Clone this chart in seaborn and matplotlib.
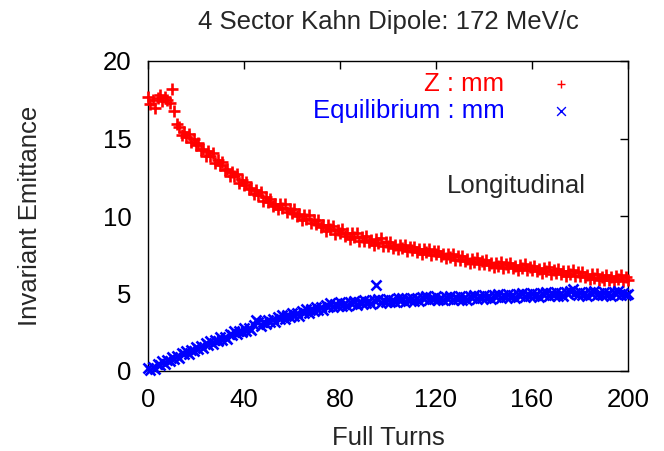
import numpy as np
import pandas as pd
import matplotlib
matplotlib.use("Agg")
import matplotlib.pyplot as plt
import seaborn as sns

# ---- data ----
z_mm = [
    17.7, 17.2, 17.5, 17.0, 17.6, 17.8, 17.4, 17.7, 17.5, 17.3,
    18.2,
    16.8, 15.95, 15.75, 15.2, 15.45, 15.1, 15.3, 14.75, 14.95, 14.55,
    14.7, 14.25, 14.35, 13.9, 14.2, 13.85, 14.05, 13.45, 13.6, 13.3,
    13.47, 12.98, 13.05, 12.61, 12.87, 12.55, 12.73, 12.16, 12.34, 12.02,
    12.2, 11.73, 11.81, 11.39, 11.67, 11.35, 11.55, 11.0, 11.2, 10.9,
    11.1, 10.65, 10.79, 10.43, 10.77, 10.51, 10.75, 10.23, 10.46, 10.19,
    10.42, 10.0, 10.13, 9.75, 10.08, 9.81, 10.04, 9.52, 9.75, 9.48,
    9.71, 9.29, 9.42, 9.05, 9.39, 9.13, 9.37, 8.86, 9.12, 8.88,
    9.13, 8.73, 8.88, 8.53, 8.88, 8.63, 8.88, 8.38, 8.64, 8.41,
    8.68, 8.3, 8.47, 8.15, 8.52, 8.29, 8.55, 8.06, 8.32, 8.08,
    8.32, 7.96, 8.12, 7.84, 8.14, 7.94, 8.16, 7.76, 7.98, 7.78,
    8.03, 7.69, 7.85, 7.57, 7.87, 7.67, 7.9, 7.5, 7.72, 7.52,
    7.77, 7.41, 7.56, 7.27, 7.56, 7.35, 7.57, 7.17, 7.39, 7.17,
    7.42, 7.07, 7.23, 6.95, 7.24, 7.05, 7.27, 6.88, 7.1, 6.9,
    7.15, 6.81, 6.97, 6.7, 7.0, 6.8, 7.03, 6.65, 6.88, 6.69,
    6.95, 6.62, 6.8, 6.53, 6.84, 6.65, 6.88, 6.49, 6.72, 6.52,
    6.78, 6.44, 6.61, 6.34, 6.64, 6.45, 6.68, 6.29, 6.52, 6.32,
    6.59, 6.25, 6.42, 6.15, 6.46, 6.27, 6.5, 6.12, 6.36, 6.16,
    6.41, 6.06, 6.22, 5.94, 6.23, 6.03, 6.25, 5.85, 6.09, 5.9,
    6.18, 5.85, 6.04, 5.78, 6.1, 5.92, 6.17, 5.79, 6.04, 5.85,
]
equilibrium_mm = [
    0.22, 0.07, 0.28, 0.16, 0.48, 0.41, 0.67, 0.47, 0.72, 0.66,
    0.92, 0.76, 0.97, 0.84, 1.15, 1.07, 1.32, 1.12, 1.36, 1.29,
    1.55, 1.39, 1.59, 1.47, 1.78, 1.7, 1.95, 1.74, 1.99, 1.92,
    2.17, 2.01, 2.21, 2.08, 2.39, 2.31, 2.56, 2.36, 2.6, 2.53,
    2.77, 2.61, 2.8, 2.67, 2.97, 3.3, 3.13, 2.91, 3.14, 3.06,
    3.31, 3.14, 3.33, 3.18, 3.47, 3.37, 3.6, 3.37, 3.59, 3.5,
    3.72, 3.54, 3.72, 3.57, 3.86, 3.76, 3.99, 3.76, 3.98, 3.89,
    4.11, 3.93, 4.11, 3.95, 4.24, 4.13, 4.36, 4.12, 4.32, 4.21,
    4.42, 4.21, 4.37, 4.19, 4.46, 4.33, 4.54, 4.28, 4.48, 4.37,
    4.57, 4.37, 4.52, 4.34, 4.6, 5.55, 4.66, 4.4, 4.59, 4.47,
    4.67, 4.46, 4.6, 4.42, 4.68, 4.54, 4.74, 4.48, 4.67, 4.55,
    4.74, 4.53, 4.68, 4.5, 4.75, 4.62, 4.82, 4.55, 4.74, 4.62,
    4.81, 4.59, 4.73, 4.55, 4.8, 4.66, 4.85, 4.58, 4.76, 4.63,
    4.82, 4.61, 4.76, 4.58, 4.84, 4.7, 4.9, 4.64, 4.82, 4.7,
    4.9, 4.69, 4.84, 4.65, 4.91, 4.78, 4.98, 4.71, 4.9, 4.77,
    4.97, 4.76, 4.9, 4.72, 4.98, 4.84, 5.04, 4.78, 4.96, 4.84,
    5.03, 4.82, 4.96, 4.78, 5.03, 4.9, 5.09, 4.83, 5.01, 4.89,
    5.08, 4.87, 5.01, 4.82, 5.08, 4.94, 5.13, 5.3, 5.05, 4.92,
    5.12, 4.9, 5.04, 4.85, 5.1, 4.96, 5.15, 4.88, 5.06, 4.93,
    5.12, 4.9, 5.04, 4.85, 5.1, 4.96, 5.15, 4.88, 5.06, 4.93,
    5.0,
]
turns_z = list(range(len(z_mm)))
turns_eq = list(range(len(equilibrium_mm)))
x_ticks = [0, 40, 80, 120, 160, 200]
y_ticks = [0, 5, 10, 15, 20]
title = "4 Sector Kahn Dipole: 172 MeV/c"

# ---- style ----
sns.set_style("white")
plt.rcParams['font.family'] = ['Liberation Sans', 'DejaVu Sans']
FS = 18.5

fig = plt.figure(figsize=(6.64, 4.51), dpi=100)
ax = fig.add_axes([148/664, 1-371/451, 480/664, 310/451])

df_z = pd.DataFrame({"turn": turns_z, "val": z_mm})
df_e = pd.DataFrame({"turn": turns_eq, "val": equilibrium_mm})

sns.scatterplot(data=df_z, x="turn", y="val", marker="+", color="red",
                s=64, linewidth=1.9, ax=ax, label="Z : mm", clip_on=False, zorder=3)
sns.scatterplot(data=df_e, x="turn", y="val", marker="x", color="blue",
                s=52, linewidth=1.9, ax=ax, label="Equilibrium : mm", clip_on=False, zorder=3)

ax.set_xlim(0, 200)
ax.set_ylim(0, 20)
ax.set_xticks(x_ticks)
ax.set_yticks(y_ticks)
ax.tick_params(direction="in", length=6, width=1, top=True, right=True,
               labelsize=FS, colors="black", pad=12)
for sp in ax.spines.values():
    sp.set_visible(True)
    sp.set_color("black")
    sp.set_linewidth(1.0)

ax.set_xlabel("Full Turns", fontsize=FS)
ax.set_ylabel("Invariant Emittance", fontsize=FS)
ax.xaxis.set_label_coords(0.5, -0.177)
ax.yaxis.set_label_coords(-0.221, 0.5)

fig.text(388/664, 1-22/451, title, ha="center", va="center", fontsize=FS)
ax.text((447-148)/480, (371-186)/310, "Longitudinal", transform=ax.transAxes,
        ha="left", va="center", fontsize=FS)

leg = ax.legend(loc="upper right", bbox_to_anchor=(0.8875, 0.964), frameon=False,
                markerfirst=False, fontsize=FS, handlelength=1.0,
                handletextpad=1.7, labelspacing=0.12, borderpad=0.0,
                borderaxespad=0.0)
for t, c in zip(leg.get_texts(), ["red", "blue"]):
    t.set_color(c)
for col in leg._legend_handle_box.get_children():
    col.align = "right"
for h in leg.legend_handles:
    h.set_sizes([40])
    h.set_linewidth(1.0)

fig.savefig("out.png", dpi=100)
